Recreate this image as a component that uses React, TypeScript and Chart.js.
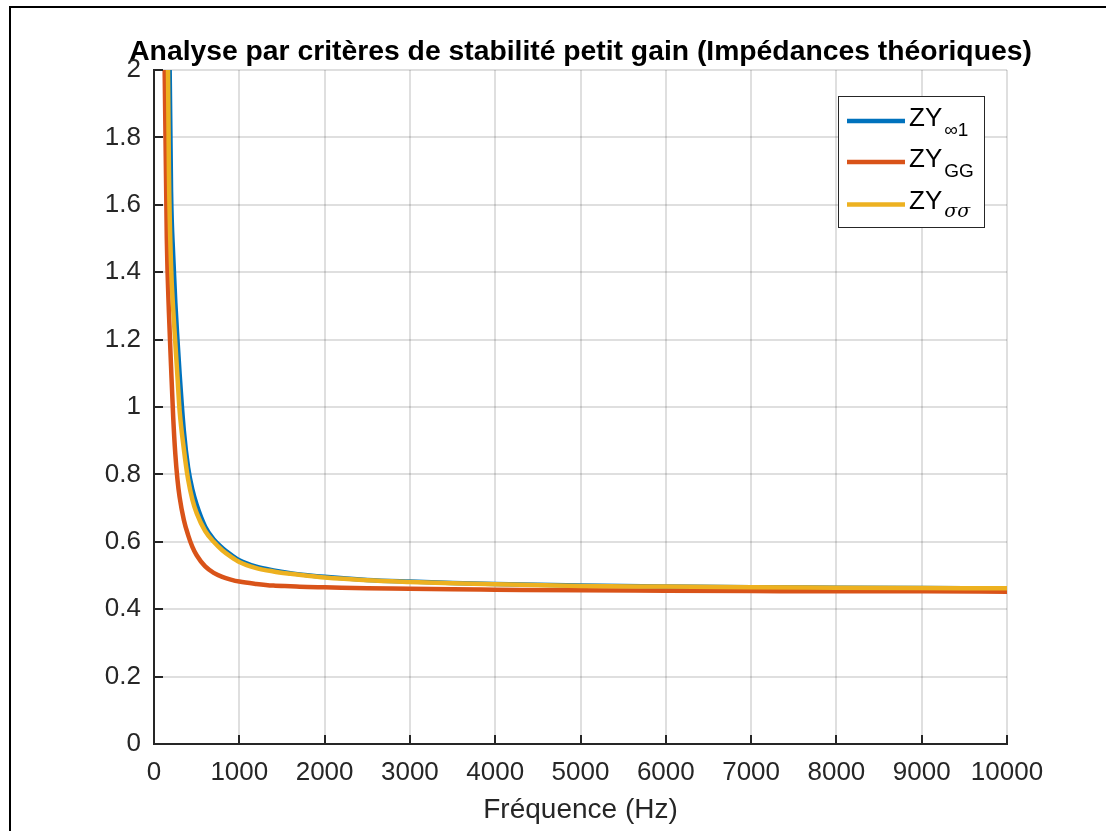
import React, { useEffect, useRef } from "react";
import { Chart, registerables } from "chart.js";

Chart.register(...registerables);

const TITLE = "Analyse par critères de stabilité petit gain (Impédances théoriques)";
const X_LABEL = "Fréquence (Hz)";

const FREQ_HZ = [100, 125, 150, 175, 200, 225, 250, 275, 300, 350, 400, 450, 500, 600, 700, 800, 900, 1000, 1200, 1400, 1600, 1800, 2000, 2500, 3000, 3500, 4000, 5000, 6000, 7000, 8000, 9000, 10000];
const ZY_INF1 = [6.0, 4.0, 2.9, 2.2, 1.64, 1.45, 1.31, 1.2, 1.1, 0.93, 0.82, 0.755, 0.71, 0.645, 0.607, 0.582, 0.562, 0.545, 0.526, 0.515, 0.507, 0.501, 0.496, 0.487, 0.482, 0.478, 0.475, 0.470, 0.467, 0.465, 0.464, 0.463, 0.462];
const ZY_GG = [3.0, 2.0, 1.5, 1.28, 1.12, 0.97, 0.86, 0.785, 0.733, 0.665, 0.62, 0.585, 0.56, 0.527, 0.508, 0.496, 0.488, 0.482, 0.475, 0.470, 0.468, 0.466, 0.465, 0.462, 0.461, 0.459, 0.458, 0.456, 0.455, 0.454, 0.453, 0.453, 0.452];
const ZY_SIGMA = [4.8, 3.2, 2.4, 1.7, 1.42, 1.29, 1.19, 1.09, 0.99, 0.875, 0.785, 0.725, 0.685, 0.632, 0.600, 0.575, 0.556, 0.540, 0.522, 0.512, 0.505, 0.499, 0.494, 0.486, 0.481, 0.477, 0.474, 0.469, 0.467, 0.465, 0.464, 0.463, 0.462];

const X_TICKS = [0, 1000, 2000, 3000, 4000, 5000, 6000, 7000, 8000, 9000, 10000];
const Y_TICKS = [0, 0.2, 0.4, 0.6, 0.8, 1, 1.2, 1.4, 1.6, 1.8, 2];

const SERIES_MAIN = ["ZY", "ZY", "ZY"];
const SERIES_SUB = ["∞1", "GG", "σσ"];
const SERIES_COLORS = ["#0072BD", "#D95319", "#EDB120"];

const FONT = "'Liberation Sans', Arial, Helvetica, sans-serif";
const AXIS_COLOR = "#262626";

const toPoints = (ys: number[]) => FREQ_HZ.map((f, i) => ({ x: f, y: ys[i] }));

const decorPlugin = {
  id: "decor",
  beforeDraw(chart: any) {
    const { ctx } = chart;
    ctx.save();
    ctx.fillStyle = "#ffffff";
    ctx.fillRect(0, 0, chart.width, chart.height);
    ctx.strokeStyle = "#000000";
    ctx.lineWidth = 2;
    ctx.strokeRect(10, 7, chart.width + 40, chart.height + 40);
    ctx.fillStyle = "#000000";
    ctx.font = `bold 28.3px ${FONT}`;
    ctx.textAlign = "center";
    ctx.textBaseline = "alphabetic";
    const ca = chart.chartArea;
    ctx.fillText(TITLE, (ca.left + ca.right) / 2, 59.5);
    ctx.restore();
  },
  afterDatasetsDraw(chart: any) {
    const { ctx } = chart;
    const ca = chart.chartArea;
    const xs = chart.scales.x;
    const ys = chart.scales.y;
    ctx.save();
    ctx.strokeStyle = AXIS_COLOR;
    ctx.lineWidth = 2;
    ctx.beginPath();
    X_TICKS.forEach((v) => {
      const px = Math.round(xs.getPixelForValue(v));
      ctx.moveTo(px, ca.bottom);
      ctx.lineTo(px, ca.bottom - 9);
    });
    Y_TICKS.forEach((v) => {
      const py = Math.round(ys.getPixelForValue(v));
      ctx.moveTo(ca.left, py);
      ctx.lineTo(ca.left + 9, py);
    });
    ctx.stroke();
    ctx.beginPath();
    ctx.moveTo(ca.left, ca.top);
    ctx.lineTo(ca.left, ca.bottom);
    ctx.lineTo(ca.right, ca.bottom);
    ctx.stroke();

    const bx = 838.5, by = 96.5, bw = 146, bh = 131;
    ctx.fillStyle = "#ffffff";
    ctx.fillRect(bx, by, bw, bh);
    ctx.strokeStyle = AXIS_COLOR;
    ctx.lineWidth = 1;
    ctx.strokeRect(bx, by, bw, bh);
    const rowY = [121, 162, 204.5];
    SERIES_MAIN.forEach((main, i) => {
      const y = rowY[i];
      ctx.strokeStyle = SERIES_COLORS[i];
      ctx.lineWidth = 4.5;
      ctx.beginPath();
      ctx.moveTo(847, y);
      ctx.lineTo(905, y);
      ctx.stroke();
      ctx.fillStyle = "#000000";
      ctx.textAlign = "left";
      ctx.textBaseline = "alphabetic";
      ctx.font = `26px ${FONT}`;
      ctx.fillText(main, 909, y + 4.5);
      const w = ctx.measureText(main).width;
      const sub = SERIES_SUB[i];
      ctx.font = i === 2 ? `italic 19px 'DejaVu Serif', serif` : `19px ${FONT}`;
      ctx.fillText(sub, 909 + w + 2, y + (i === 2 ? 12.5 : 14.5));
    });
    ctx.restore();
  },
};

export default function App() {
  const ref = useRef<HTMLCanvasElement | null>(null);
  useEffect(() => {
    if (!ref.current) return;
    const lineDs = (label: string, ys: number[], color: string, order: number) => ({
      label,
      data: toPoints(ys),
      borderColor: color,
      backgroundColor: color,
      borderWidth: 4.5,
      pointRadius: 0,
      fill: false,
      showLine: true,
      cubicInterpolationMode: "monotone" as const,
      clip: 0,
      order,
    });
    const chart = new Chart(ref.current, {
      type: "line",
      data: {
        datasets: [
          lineDs("ZY∞1", ZY_INF1, SERIES_COLORS[0], 3),
          lineDs("ZYGG", ZY_GG, SERIES_COLORS[1], 2),
          lineDs("ZYσσ", ZY_SIGMA, SERIES_COLORS[2], 1),
        ],
      },
      options: {
        animation: false,
        responsive: false,
        devicePixelRatio: 1,
        layout: { padding: { left: 0, right: 99, top: 70, bottom: 0 } },
        plugins: {
          legend: { display: false },
          title: { display: false },
          tooltip: { enabled: false },
        },
        scales: {
          x: {
            type: "linear",
            min: 0,
            max: 10000,
            afterBuildTicks: (s: any) => {
              s.ticks = X_TICKS.map((v) => ({ value: v }));
            },
            afterFit: (s: any) => {
              s.height = 87;
            },
            ticks: {
              color: AXIS_COLOR,
              font: { family: FONT, size: 26 },
              padding: 13,
              maxRotation: 0,
              autoSkip: false,
              callback: (v: any) => String(v),
            },
            grid: { color: "rgba(38,38,38,0.15)", lineWidth: 2, drawTicks: false },
            border: { display: true, color: AXIS_COLOR, width: 2 },
            title: {
              display: true,
              text: X_LABEL,
              color: AXIS_COLOR,
              font: { family: FONT, size: 28 },
              padding: { top: 0, bottom: 4 },
            },
          },
          y: {
            type: "linear",
            min: 0,
            max: 2,
            afterBuildTicks: (s: any) => {
              s.ticks = Y_TICKS.map((v) => ({ value: v }));
            },
            afterFit: (s: any) => {
              s.width = 154;
            },
            ticks: {
              color: AXIS_COLOR,
              font: { family: FONT, size: 26 },
              padding: 13,
              autoSkip: false,
              callback: (v: any) => String(Math.round(Number(v) * 10) / 10),
            },
            grid: { color: "rgba(38,38,38,0.15)", lineWidth: 2, drawTicks: false },
            border: { display: true, color: AXIS_COLOR, width: 2 },
          },
        },
      },
      plugins: [decorPlugin],
    });
    return () => chart.destroy();
  }, []);
  return (
    <div style={{ position: "absolute", left: 0, top: 0, width: 1106, height: 831, background: "#fff" }}>
      <canvas ref={ref} width={1106} height={831} style={{ display: "block", width: 1106, height: 831 }} />
    </div>
  );
}
